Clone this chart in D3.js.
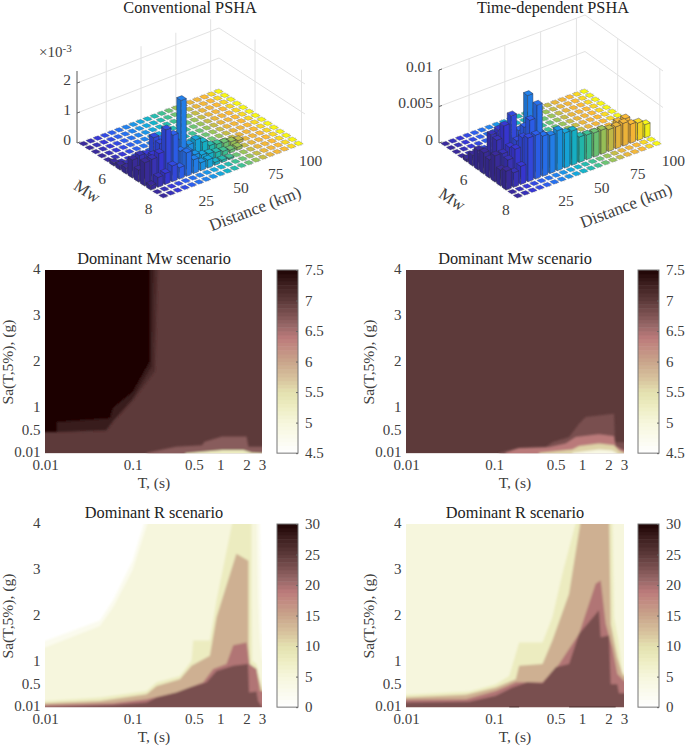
<!DOCTYPE html>
<html>
<head>
<meta charset="utf-8">
<script src="https://cdn.jsdelivr.net/npm/d3@7"></script>
<style>
body { margin: 0; background: #fff; }
text { font-family: "Liberation Serif", serif; fill: #404040; }
.title { fill: #222; font-size: 16.3px; text-anchor: middle; }
.tick3d { font-size: 15.5px; text-anchor: middle; dominant-baseline: middle; }
.lab { font-size: 15.6px; text-anchor: middle; }
.lab3d { font-size: 17px; text-anchor: middle; }
</style>
</head>
<body>
<div id="chart"></div>
<script>
// bar3 data, both in units of 1e-3
const distances = d3.range(5, 105, 5)
const magnitudes = d3.range(4.75, 8.25, 0.25)

const conventional = [
  [],
  [],
  [],
  [],
  [],
  [0.1],
  [0.15, 0.1],
  [0.2, 0.3, 0.35],
  [0.6, 0.66, 0.6, 1.07, 0.9, 0.5, 0.3, 0.2, 0.1, 0.05],
  [0.4, 0.5, 0.7, 1.0, 1.1, 0.9, 2.17, 0.6, 0.67, 0.5, 0.3, 0.25, 0.2, 0.15, 0.1],
  [0.78, 0.8, 0.9, 1.6, 1.33, 0.7, 0.6, 0.4, 0.3, 0.25, 0.2, 0.15, 0.1, 0.1],
  [0.15, 0.33, 0.37, 0.53, 0.38, 0.78, 0.46, 0.27, 0.27, 0.1, 0.08, 0.05],
  [],
  []
]
const timeDependent = [
  [],
  [],
  [],
  [],
  [0.4],
  [1.5, 0.8],
  [2.7, 2.2, 1.5, 1],
  [2.9, 5, 5.3, 5, 3, 3, 8.5, 2],
  [2.5, 4.8, 6.4, 7.4, 5, 5, 4, 3, 2],
  [3.6, 3.5, 4, 4.5, 6, 5, 4.5, 3, 2.5, 2],
  [2.2, 3.2, 4.3, 5.5, 7.5, 9.2, 4.5, 4, 3.5, 2.5, 1.5, 1, 1, 1, 1.5, 2, 2.7, 2.8, 1.5, 0.5],
  [2.6, 2, 2.5, 6, 6, 5.5, 5.2, 5.5, 4.8, 4.7, 3.5, 3.4, 3.3, 3.3, 3, 3, 3.1, 2.6, 2.4, 1.8],
  [],
  []
]

// heat map bands: [T, Sa] outline of every region, with its value
// above: true fills from the outline up to Sa = 4, otherwise down to Sa = 0
const mwConv = [
  {value: 7.15, above: true, line: [[0.0137, 0.47], [0.05, 0.5], [0.06, 0.7], [0.1, 1.15], [0.18, 1.8], [0.195, 4]]},
  {value: 7.3, above: true, line: [[0.0137, 0.47], [0.05, 0.52], [0.06, 0.72], [0.1, 1.2], [0.165, 1.9], [0.175, 4]]},
  {value: 7.5, above: true, line: [[0.01, 0.47], [0.0137, 0.47], [0.0137, 0.69], [0.055, 0.77], [0.06, 1], [0.1, 1.34], [0.157, 2], [0.157, 4]]},
  {value: 6.7, line: [[0.145, 0.02], [0.31, 0.15], [0.62, 0.18], [0.66, 0.26], [1.05, 0.37], [2.0, 0.37], [2.1, 0.15], [3, 0.15]]},
  {value: 5.3, line: [[0.4, 0.01], [0.62, 0.04], [1.05, 0.08], [1.85, 0.08], [2.3, 0.02], [3, 0.01]]}
]
const mwTime = [
  {value: 6.8, line: [[0.1145, 0.02], [0.177, 0.11], [0.387, 0.145], [0.461, 0.25], [0.713, 0.36], [0.926, 0.65], [1.1, 0.8], [2.31, 0.87], [2.37, 0.25], [3, 0.25]]},
  {value: 6.4, line: [[0.136, 0.02], [0.193, 0.12], [0.423, 0.14], [0.653, 0.22], [0.849, 0.36], [1.56, 0.42], [2.31, 0.38], [2.41, 0.16], [3, 0.07]]},
  {value: 5.6, line: [[0.326, 0.02], [0.778, 0.09], [0.926, 0.167], [1.56, 0.22], [2.31, 0.18], [2.63, 0.07], [3, 0.02]]},
  {value: 4.9, line: [[0.778, 0.02], [1.56, 0.09], [2.2, 0.07], [2.5, 0.01]]}
]
const rConv = [
  {value: 2.5, line: [[0.01, 1.45], [0.0424, 1.9], [0.0602, 2.35], [0.1, 3.2], [0.15, 4], [2.83, 4], [3, 1.6]]},
  {value: 5, line: [[0.01, 1.31], [0.0424, 1.78], [0.0602, 2.19], [0.1, 3], [0.165, 4], [2.6, 4], [2.71, 2.34], [2.83, 1.46], [3, 1.02]]},
  {value: 8, line: [[0.01, 0.146], [0.0424, 0.22], [0.1445, 0.36], [0.188, 0.55], [0.347, 0.69], [0.471, 1.02], [0.492, 1.46], [0.762, 1.46], [0.908, 2.34], [1.47, 4], [2.28, 4], [2.28, 2.34], [2.32, 1.02], [2.6, 0.95], [3, 0.44]]},
  {value: 14, line: [[0.01, 0.095], [0.0424, 0.146], [0.1445, 0.29], [0.188, 0.47], [0.347, 0.62], [0.471, 0.91], [0.762, 1.13], [0.908, 1.97], [1.53, 3.35], [2.1, 3.2], [2.1, 1.39], [2.18, 0.95], [2.6, 0.8], [3, 0.36]]},
  {value: 19.5, line: [[0.01, 0.058], [0.0602, 0.095], [0.1445, 0.18], [0.318, 0.33], [0.64, 0.55], [0.832, 0.84], [1.18, 0.95], [1.41, 1.36], [2.0, 1.42], [2.14, 0.95], [2.6, 0.84], [2.83, 0.36], [3, 0.36]]},
  {value: 23, line: [[0.01, 0.015], [0.0602, 0.058], [0.1445, 0.11], [0.188, 0.22], [0.318, 0.33], [0.451, 0.44], [0.698, 0.55], [0.908, 0.8], [1.41, 0.91], [2.08, 0.95], [2.14, 0.33], [2.6, 0.35], [2.71, 0.146], [3, 0.015]]}
]
const rTime = [
  {value: 8, line: [[0.01, 0.28], [0.0523, 0.35], [0.105, 0.51], [0.149, 0.69], [0.193, 1.42], [0.356, 1.42], [0.461, 1.97], [0.6, 2.92], [0.926, 4], [2.21, 4], [2.31, 1.97], [2.59, 1.46], [2.87, 0.77], [3, 0.73]]},
  {value: 14, line: [[0.01, 0.22], [0.048, 0.28], [0.105, 0.44], [0.177, 0.62], [0.193, 0.91], [0.356, 0.95], [0.461, 1.46], [0.713, 2.48], [1.01, 4], [2.03, 4], [2.12, 1.82], [2.52, 1.09], [2.87, 0.73], [3, 0.69]]},
  {value: 19.5, line: [[0.01, 0.17], [0.048, 0.18], [0.105, 0.36], [0.177, 0.55], [0.356, 0.55], [0.55, 0.95], [0.926, 1.61], [1.43, 2.7], [1.63, 2.77], [1.86, 1.82], [2.21, 1.31], [2.52, 0.73], [3, 0.58]]},
  {value: 23, line: [[0.01, 0.11], [0.0523, 0.13], [0.105, 0.26], [0.162, 0.44], [0.24, 0.55], [0.356, 0.53], [0.503, 0.88], [0.713, 0.95], [0.926, 1.61], [1.56, 2.12], [1.63, 1.53], [2.03, 1.57], [2.12, 0.51], [2.52, 0.51], [2.63, 0.31], [3, 0.31]]}
]
const rTimeBlack = [
  {value: 30, line: [[0.149, 0.018], [0.193, 0.018]]},
  {value: 30, line: [[0.713, 0.018], [2.41, 0.018]]}
]

const saTicks = [0.01, 0.5, 1, 2, 3, 4]
const tTicks = [0.01, 0.1, 0.5, 1, 2, 3]
const mwBarTicks = [4.5, 5, 5.5, 6, 6.5, 7, 7.5]
const rBarTicks = [0, 5, 10, 15, 20, 25, 30]

const parulaStops = ["#3a2c9c", "#3838d8", "#2d63f0", "#2088ee", "#10b0d8", "#2cc0a0", "#8cc860", "#e8b83c", "#fcb838", "#f8f818"]
const parula = d3.scaleLinear()
      .domain(d3.range(parulaStops.length).map(d => d / (parulaStops.length - 1)))
      .range(parulaStops)

const pinkFrac = [0, 0.17, 0.25, 0.33, 0.4, 0.5, 0.63, 0.7, 0.83, 0.9, 1]
const pinkCols = ["#ffffff", "#f6f6dc", "#eeeec4", "#e4e2b0", "#d9c69f", "#c9a58b", "#bc7b7b", "#966666", "#5e3b3b", "#452626", "#1f0404"]
const pinkFlip = d3.scaleLinear().domain(pinkFrac).range(pinkCols)

const svg = d3.select("#chart").append("svg")
      .attr("width", 685)
      .attr("height", 746)

const defs = svg.append("defs")
defs.append("filter").attr("id", "soft")
  .attr("x", "-10%").attr("y", "-10%").attr("width", "120%").attr("height", "120%")
  .append("feGaussianBlur").attr("stdDeviation", 0.4)
defs.append("filter").attr("id", "band")
  .attr("x", "-10%").attr("y", "-10%").attr("width", "120%").attr("height", "120%")
  .append("feGaussianBlur").attr("stdDeviation", 1.1)

//////////////////////////////////////////////////////////////
//                         3D bars
//////////////////////////////////////////////////////////////

function drawBars(p) {
  const g = svg.append("g")

  const rFrac = d3.scaleLinear().domain([4, 106]).range([0, 1])
  const mFrac = d3.scaleLinear().domain([4.45, 8.15]).range([0, 1])
  const rBand = d3.scaleBand().domain(distances).range([0, 1]).paddingInner(0.27).paddingOuter(0.13)
  const mBand = d3.scaleBand().domain(magnitudes).range([0, 1]).paddingInner(0.27).paddingOuter(0.13)
  const zPx = d3.scaleLinear().domain([0, p.zTop]).range([0, p.zLen])

  // floor fractions + height to screen
  const proj = (fr, fm, z) => [
    p.left[0] + fr * p.vr[0] + fm * p.vm[0],
    p.left[1] + fr * p.vr[1] + fm * p.vm[1] - zPx(z)
  ]

  const grid = g.append("g").attr("stroke", "#e2e2e2").attr("fill", "none")
  const line = d3.line()
  p.zGrid.forEach(z => {
    grid.append("path").attr("d", line([proj(0, 0, z), proj(1, 0, z), proj(1, 1, z)]))
  })
  ;[25, 50, 75, 100].forEach(r => {
    grid.append("path").attr("d", line([proj(rFrac(r), 0, 0), proj(rFrac(r), 0, p.zTop)]))
  })
  ;[6, 8].forEach(m => {
    grid.append("path").attr("d", line([proj(1, mFrac(m), 0), proj(1, mFrac(m), p.zTop)]))
  })

  // floor lines show through the gaps
  const floor = g.append("g").attr("stroke", "#a0a0a0").attr("stroke-width", 0.7)
  distances.forEach(r => {
    const f = rBand(r) + rBand.bandwidth() / 2
    floor.append("path").attr("d", line([proj(f, 0, 0), proj(f, 1, 0)]))
  })
  magnitudes.forEach(m => {
    const f = mBand(m) + mBand.bandwidth() / 2
    floor.append("path").attr("d", line([proj(0, f, 0), proj(1, f, 0)]))
  })

  // back rows first, near column last
  const bars = []
  magnitudes.forEach((m, j) => {
    d3.range(distances.length - 1, -1, -1).forEach(i => {
      bars.push({i: i, m: m, r: distances[i], z: p.values[j][i] || 0})
    })
  })

  const marks = g.append("g").attr("filter", "url(#soft)")
  marks.selectAll("g.bar").data(bars).join("g")
    .attr("class", "bar")
    .each(function(b) {
      const r0 = rBand(b.r), r1 = r0 + rBand.bandwidth()
      const m0 = mBand(b.m), m1 = m0 + mBand.bandwidth()
      const col = d3.color(parula(b.i / (distances.length - 1)))
      const sel = d3.select(this)
        .attr("stroke", "#2b2b3a")
        .attr("stroke-width", b.z > 0 ? 0.55 : 0.4)
        .attr("stroke-opacity", b.z > 0 ? 0.75 : 0.5)
        .attr("stroke-linejoin", "round")
      if (b.z > 0) {
        sel.append("path").attr("fill", col.darker(0.45))
          .attr("d", line([proj(r0, m0, 0), proj(r0, m1, 0), proj(r0, m1, b.z), proj(r0, m0, b.z)]) + "Z")
        sel.append("path").attr("fill", col.darker(0.1))
          .attr("d", line([proj(r0, m1, 0), proj(r1, m1, 0), proj(r1, m1, b.z), proj(r0, m1, b.z)]) + "Z")
      }
      sel.append("path").attr("fill", col)
        .attr("d", line([proj(r0, m0, b.z), proj(r1, m0, b.z), proj(r1, m1, b.z), proj(r0, m1, b.z)]) + "Z")
    })

  // z axis
  g.append("path")
    .attr("d", line([proj(0, 0, 0), proj(0, 0, p.zTop)]))
    .attr("stroke", "#666").attr("stroke-width", 1.1).attr("fill", "none")
  p.zTicks.forEach((z, k) => {
    const pt = proj(0, 0, z)
    g.append("path").attr("d", line([pt, [pt[0] + 3, pt[1] - 1]])).attr("stroke", "#666")
    g.append("text")
      .attr("x", pt[0] - 6).attr("y", pt[1] - 2)
      .attr("text-anchor", "end").attr("dominant-baseline", "middle")
      .style("font-size", "15.5px")
      .text(p.zLabels[k])
  })

  // floor ticks
  ;[6, 8].forEach(m => {
    const pt = proj(0, mFrac(m), 0)
    g.append("text").attr("class", "tick3d")
      .attr("x", pt[0] + p.mOff[0]).attr("y", pt[1] + p.mOff[1]).text(m)
  })
  ;[25, 50, 75, 100].forEach(r => {
    const pt = proj(rFrac(r), 1, 0)
    g.append("text").attr("class", "tick3d")
      .attr("x", pt[0] + p.rOff[0]).attr("y", pt[1] + p.rOff[1]).text(r)
  })

  g.append("text").attr("class", "title").attr("x", p.titleX).attr("y", 13).text(p.title)
  g.append("text").attr("class", "lab3d")
    .attr("transform", `translate(${p.mwLab}) rotate(33)`).text("Mw")
  g.append("text").attr("class", "lab3d")
    .attr("transform", `translate(${p.distLab}) rotate(-21)`).text("Distance (km)")
}

drawBars({
  title: "Conventional PSHA", titleX: 190,
  values: conventional,
  left: [77, 143], vr: [142, -55], vm: [86, 56],
  zTop: 2.4, zLen: 72, zGrid: [1, 2], zTicks: [0, 1, 2], zLabels: ["0", "1", "2"],
  mOff: [-11, 14], rOff: [14, 15],
  mwLab: [84, 196], distLab: [257, 214]
})
drawBars({
  title: "Time-dependent PSHA", titleX: 553,
  values: timeDependent,
  left: [439, 143], vr: [146, -55], vm: [78, 56],
  zTop: 10, zLen: 73, zGrid: [5, 10], zTicks: [0, 5, 10], zLabels: ["0", "0.005", "0.01"],
  mOff: [-8, 14.5], rOff: [19, 15],
  mwLab: [449, 204], distLab: [628, 211]
})

svg.append("text").attr("x", 39).attr("y", 57)
  .style("font-size", "15px")
  .html('×10<tspan dy="-5" style="font-size:11px">-3</tspan>')

//////////////////////////////////////////////////////////////
//                         Heat maps
//////////////////////////////////////////////////////////////

let clipCount = 0

function drawMap(p) {
  const g = svg.append("g")
  const x = d3.scaleLog().domain([0.01, 3]).range([p.x0, p.x0 + p.w])
  const y = d3.scaleLinear().domain([0, 4]).range([p.y0 + 183.6, p.y0])
  const col = d3.scaleLinear().domain(p.cdom).range([0, 1])
  const fill = v => pinkFlip(col(v))

  const clipId = "plot" + (clipCount++)
  defs.append("clipPath").attr("id", clipId).append("rect")
    .attr("x", x.range()[0]).attr("y", y(4))
    .attr("width", p.w).attr("height", y(0.01) - y(4))

  const plot = g.append("g").attr("clip-path", `url(#${clipId})`)
  plot.append("rect")
    .attr("x", x.range()[0]).attr("y", y(4))
    .attr("width", p.w).attr("height", y(0) - y(4))
    .attr("fill", fill(p.base))

  const area = d3.area()
    .x(d => x(d[0]))
    .y0(y(-0.2))
    .y1(d => y(d[1]))
  const areaAbove = d3.area()
    .x(d => x(d[0]))
    .y0(y(4.3))
    .y1(d => y(d[1]))

  // pad the outline past the plot so the blur stays inside the clip
  const padded = line => {
    const out = line.slice()
    if (out[0][0] <= 0.01) out.unshift([0.009, out[0][1]])
    const last = out[out.length - 1]
    if (last[0] >= 3) out.push([3.3, last[1]])
    return out.map(d => [d[0], d[1] >= 4 ? 4.3 : d[1]])
  }

  plot.append("g").attr("filter", "url(#band)")
    .selectAll("path").data(p.bands).join("path")
    .attr("fill", d => fill(d.value))
    .attr("d", d => (d.above ? areaAbove : area)(padded(d.line)))

  if (p.extra) {
    plot.append("g").selectAll("path").data(p.extra).join("path")
      .attr("fill", d => fill(d.value))
      .attr("d", d => area(d.line))
  }

  const xAxis = d3.axisBottom(x).tickValues(tTicks).tickFormat(d => d).tickSize(0)
  const yAxis = d3.axisLeft(y).tickValues(saTicks).tickFormat(d => d).tickSize(0)

  const ax = g.append("g").attr("transform", `translate(0,${y(0.01)})`).call(xAxis)
  ax.select(".domain").remove()
  ax.selectAll("text").style("font-family", "Liberation Serif").style("font-size", "15px").attr("fill", "#404040").attr("dy", "0.9em")
  const ay = g.append("g").attr("transform", `translate(${p.x0},0)`).call(yAxis)
  ay.select(".domain").remove()
  ay.selectAll("text").style("font-family", "Liberation Serif").style("font-size", "15px").attr("fill", "#404040").attr("dx", "-0.1em").attr("dy", "0.25em")

  g.append("text").attr("class", "title").attr("x", p.x0 + 109).attr("y", p.y0 - 6).text(p.title)
  g.append("text").attr("class", "lab").attr("x", p.x0 + 109).attr("y", p.y0 + 218).text("T, (s)")
  g.append("text").attr("class", "lab")
    .attr("transform", `translate(${p.x0 - 32},${p.y0 + 92}) rotate(-90)`)
    .text("Sa(T,5%), (g)")

  // colour bar
  const cx = p.x0 + 232, cw = 21
  const cy = d3.scaleLinear().domain(p.cdom).range([y(0.01), y(4)])
  const steps = d3.range(0, 48).map(d => p.cdom[0] + (p.cdom[1] - p.cdom[0]) * d / 48)
  const stepH = (y(0.01) - y(4)) / 48
  g.append("g").selectAll("rect").data(steps).join("rect")
    .attr("x", cx).attr("width", cw)
    .attr("y", d => cy(d) - stepH)
    .attr("height", stepH + 0.5)
    .attr("fill", d => fill(d + (p.cdom[1] - p.cdom[0]) / 96))
  g.append("rect")
    .attr("x", cx).attr("y", y(4)).attr("width", cw).attr("height", y(0.01) - y(4))
    .attr("fill", "none").attr("stroke", "#777").attr("stroke-width", 1)
  const cAxis = d3.axisRight(cy).tickValues(p.cticks).tickFormat(d => d).tickSize(-2).tickPadding(7)
  const ca = g.append("g").attr("transform", `translate(${cx + cw},0)`).call(cAxis)
  ca.select(".domain").remove()
  ca.selectAll("line").attr("stroke", "#666")
  ca.selectAll("text").style("font-family", "Liberation Serif").style("font-size", "15px").attr("fill", "#404040")
}

drawMap({title: "Dominant Mw scenario", x0: 45, w: 217, y0: 270, base: 7, bands: mwConv,
         cdom: [4.5, 7.5], cticks: mwBarTicks})
drawMap({title: "Dominant Mw scenario", x0: 406, w: 218, y0: 270, base: 7, bands: mwTime,
         cdom: [4.5, 7.5], cticks: mwBarTicks})
drawMap({title: "Dominant R scenario", x0: 45, w: 217, y0: 524, base: 0, bands: rConv,
         cdom: [0, 30], cticks: rBarTicks})
drawMap({title: "Dominant R scenario", x0: 406, w: 218, y0: 524, base: 5, bands: rTime,
         extra: rTimeBlack, cdom: [0, 30], cticks: rBarTicks})
</script>
</body>
</html>
